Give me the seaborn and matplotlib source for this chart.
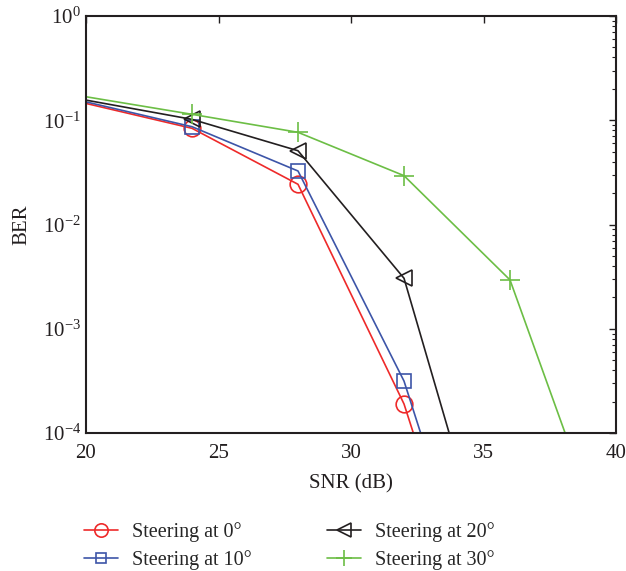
import matplotlib
matplotlib.use("Agg")
import matplotlib.pyplot as plt
import matplotlib.ticker as mticker
import numpy as np
import pandas as pd
import seaborn as sns

# ---- data ----
snr = [20, 24, 28, 32, 36, 40]
ber_0 = [0.145, 0.0837, 0.0243, 1.9e-4, 1.3e-7, np.nan]
ber_10 = [0.150, 0.0867, 0.0326, 3.15e-4, 2.1e-7, np.nan]
ber_20 = [0.156, 0.102, 0.051, 3.05e-3, 1.0e-6, np.nan]
ber_30 = [0.168, 0.114, 0.0766, 0.0294, 2.94e-3, 4.4e-6]
labels = ["Steering at 0°", "Steering at 10°", "Steering at 20°", "Steering at 30°"]
x_ticks = [20, 25, 30, 35, 40]

sns.set_theme(style="white")
plt.rcParams["font.family"] = ["Liberation Serif", "DejaVu Serif"]
plt.rcParams["mathtext.fontset"] = "custom"
plt.rcParams["mathtext.rm"] = "Liberation Serif"
plt.rcParams["mathtext.it"] = "Liberation Serif:italic"

df = pd.DataFrame({
    "SNR": snr * 4,
    "BER": ber_0 + ber_10 + ber_20 + ber_30,
    "series": sum([[l] * len(snr) for l in labels], []),
})

colors = ["#EE2A2A", "#3D55A8", "#231F20", "#6CBE45"]
markers = ["o", "s", "<", "+"]
msizes = [12, 9.5, 12, 15]

fig = plt.figure(figsize=(6.26, 5.71), dpi=100)
ax = fig.add_axes([86 / 626, 1 - 433 / 571, (616 - 86) / 626, (433 - 16) / 571])

for lab, c, m, ms in zip(labels, colors, markers, msizes):
    sub = df[df["series"] == lab].dropna()
    sns.lineplot(data=sub, x="SNR", y="BER", ax=ax, color=c, marker=m,
                 markersize=ms, markerfacecolor="none", markeredgecolor=c,
                 markeredgewidth=1.2, linewidth=1.2, label=lab, sort=False,
                 markevery=slice(1, None), estimator=None)

handles, labs = ax.get_legend_handles_labels()
if ax.get_legend() is not None:
    ax.get_legend().remove()

ax.set_yscale("log")
ax.set_xlim(20, 40)
ax.set_ylim(1e-4, 1)
ax.set_xticks(x_ticks)
ax.xaxis.set_major_formatter(mticker.FormatStrFormatter("%d"))
ax.yaxis.set_major_locator(mticker.LogLocator(base=10, numticks=10))
ax.yaxis.set_minor_locator(mticker.LogLocator(base=10, subs=np.arange(2, 10), numticks=10))
ax.yaxis.set_major_formatter(mticker.LogFormatterMathtext())
ax.yaxis.set_minor_formatter(mticker.NullFormatter())

ax.tick_params(axis="both", which="both", direction="in", top=True, right=True,
               labelsize=15, colors="#231F20")
ax.tick_params(axis="both", which="major", length=5, width=1)
ax.tick_params(axis="y", which="minor", length=3, width=0.8)
ax.tick_params(axis="x", which="major", pad=8)
for s in ax.spines.values():
    s.set_linewidth(1.5)
    s.set_color("#231F20")
    s.set_visible(True)

ax.set_xlabel("SNR (dB)", fontsize=15, color="#231F20", labelpad=8)
ax.set_ylabel("BER", fontsize=15, color="#231F20", labelpad=8)

fig.legend(handles, labs, ncol=2, loc="upper left",
           bbox_to_anchor=(84 / 626, 1 - 522 / 571), bbox_transform=fig.transFigure,
           frameon=False, fontsize=14.5, handlelength=1.7, columnspacing=3.7,
           labelspacing=0.42, handletextpad=0.7, borderpad=0, borderaxespad=0,
           markerscale=0.8)

fig.savefig("out.png", dpi=100)
